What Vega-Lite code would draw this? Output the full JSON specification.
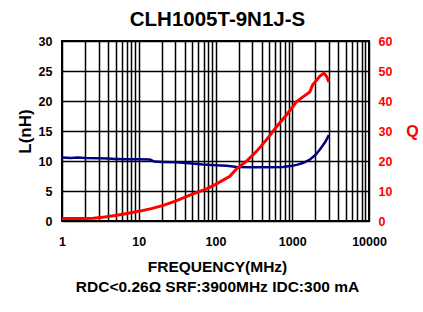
{
  "$schema": "https://vega.github.io/schema/vega-lite/v6.json",
  "width": 307,
  "height": 180,
  "autosize": "none",
  "padding": {"left": 62, "top": 41, "right": 54, "bottom": 91},
  "background": "white",
  "title": {"text": "CLH1005T-9N1J-S", "font": "Liberation Sans", "fontSize": 20.5, "fontWeight": "bold", "color": "black", "baseline": "alphabetic", "frame": "group", "offset": 14, "dx": 2, "dy": 25},
  "config": {
    "view": {"stroke": "black", "strokeWidth": 2},
    "axis": {"labelFont": "Liberation Sans", "labelFontWeight": "bold", "labelFontSize": 12.5, "labelColor": "black", "titleFont": "Liberation Sans", "titleFontWeight": "bold", "titleColor": "black", "domain": false, "ticks": false, "gridColor": "black", "gridWidth": 1.5, "gridOpacity": 1}
  },
  "datasets": {
    "L": [
      {"f": 1, "v": 10.6}, {"f": 1.3, "v": 10.5}, {"f": 1.6, "v": 10.6}, {"f": 2, "v": 10.5}, {"f": 3, "v": 10.45},
      {"f": 4, "v": 10.4}, {"f": 5, "v": 10.35}, {"f": 7, "v": 10.3}, {"f": 10, "v": 10.3}, {"f": 14, "v": 10.25},
      {"f": 16, "v": 9.9}, {"f": 20, "v": 9.85}, {"f": 30, "v": 9.8}, {"f": 38, "v": 9.7}, {"f": 50, "v": 9.6},
      {"f": 69, "v": 9.4}, {"f": 100, "v": 9.3}, {"f": 140, "v": 9.2}, {"f": 190, "v": 9.0}, {"f": 300, "v": 8.95},
      {"f": 500, "v": 8.95}, {"f": 760, "v": 9.0}, {"f": 1000, "v": 9.2}, {"f": 1140, "v": 9.35}, {"f": 1400, "v": 9.7},
      {"f": 1700, "v": 10.25}, {"f": 2000, "v": 11.0}, {"f": 2250, "v": 11.8}, {"f": 2500, "v": 12.6}, {"f": 2700, "v": 13.2},
      {"f": 3000, "v": 14.3}
    ],
    "Q": [
      {"f": 1, "v": 0.8}, {"f": 1.5, "v": 0.8}, {"f": 2, "v": 0.8}, {"f": 2.56, "v": 0.9}, {"f": 3.6, "v": 1.3},
      {"f": 5.2, "v": 1.9}, {"f": 7, "v": 2.5}, {"f": 10.4, "v": 3.3}, {"f": 15, "v": 4.2}, {"f": 20.9, "v": 5.2},
      {"f": 30, "v": 6.6}, {"f": 46.5, "v": 8.6}, {"f": 76.5, "v": 10.7}, {"f": 100, "v": 12.2}, {"f": 154, "v": 14.9},
      {"f": 189, "v": 17.5}, {"f": 255, "v": 20.0}, {"f": 345, "v": 23.3}, {"f": 465, "v": 27.2}, {"f": 625, "v": 31.4},
      {"f": 850, "v": 35.5}, {"f": 1140, "v": 39.8}, {"f": 1530, "v": 42.2}, {"f": 1690, "v": 43.0}, {"f": 1840, "v": 45.3},
      {"f": 2050, "v": 46.8}, {"f": 2300, "v": 48.3}, {"f": 2590, "v": 49.3}, {"f": 2800, "v": 48.2}, {"f": 3000, "v": 46.4}
    ]
  },
  "layer": [
    {
      "data": {"name": "L"},
      "mark": {"type": "line", "color": "#000080", "strokeWidth": 2.5, "clip": true},
      "encoding": {
        "x": {"field": "f", "type": "quantitative",
          "scale": {"type": "log", "domain": [1, 10000]},
          "axis": {
            "values": [1,2,3,4,5,6,7,8,9,10,20,30,40,50,60,70,80,90,100,200,300,400,500,600,700,800,900,1000,2000,3000,4000,5000,6000,7000,8000,9000,10000],
            "labelExpr": "indexof([1,10,100,1000,10000], datum.value) >= 0 ? format(datum.value, 'd') : ''",
            "labelPadding": 14,
            "labelFlush": false,
            "labelOverlap": false,
            "title": ["FREQUENCY(MHz)", "RDC<0.26Ω SRF:3900MHz IDC:300 mA"],
            "titleFontSize": 15.5,
            "titleLineHeight": 20,
            "titlePadding": 12,
            "titleX": 155
          }
        },
        "y": {"field": "v", "type": "quantitative",
          "scale": {"domain": [0, 30]},
          "axis": {"values": [0,5,10,15,20,25,30], "labelPadding": 10, "title": "L(nH)", "titleFontSize": 17, "titleAngle": -90, "titleX": -37, "titleY": 90, "titleAlign": "center", "titleBaseline": "middle"}
        }
      }
    },
    {
      "data": {"name": "Q"},
      "mark": {"type": "line", "color": "#ff0000", "strokeWidth": 3, "clip": true},
      "encoding": {
        "x": {"field": "f", "type": "quantitative", "scale": {"type": "log", "domain": [1, 10000]}},
        "y": {"field": "v", "type": "quantitative",
          "scale": {"domain": [0, 60]},
          "axis": {"orient": "right", "values": [0,10,20,30,40,50,60], "grid": false, "labelColor": "#ff0000", "labelPadding": 9, "title": "Q", "titleColor": "#ff0000", "titleFontSize": 16, "titleAngle": 0, "titleX": 43, "titleY": 90, "titleAlign": "center", "titleBaseline": "middle"}
        }
      }
    }
  ],
  "resolve": {"scale": {"y": "independent"}}
}
